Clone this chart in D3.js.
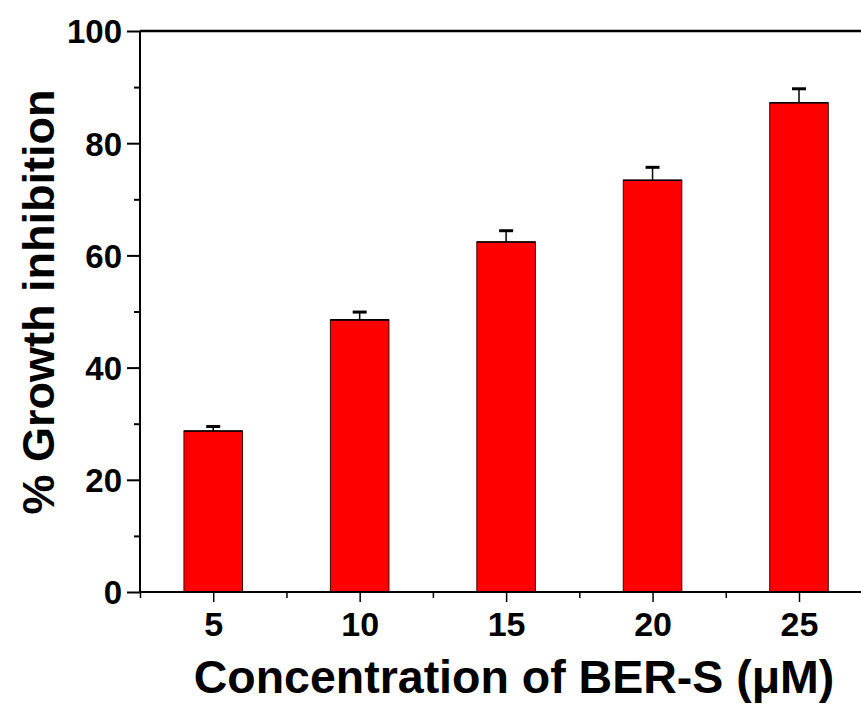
<!DOCTYPE html>
<html>
<head>
<meta charset="utf-8">
<script src="https://cdn.jsdelivr.net/npm/d3@7"></script>
<style>
body { margin: 0; background: #fff; }
text { font-family: "Liberation Sans", Arial, sans-serif; font-weight: bold; fill: #000; }
</style>
</head>
<body>
<svg id="chart" width="861" height="711"></svg>
<script>
// data
var concentrations = [5, 10, 15, 20, 25];
var inhibition = [28.7, 48.5, 62.4, 73.4, 87.2];
var errors = [0.8, 1.4, 2.0, 2.3, 2.5];
var yTicks = [0, 20, 40, 60, 80, 100];
var yMinor = [10, 30, 50, 70, 90];
var xMinor = [2.5, 7.5, 12.5, 17.5, 22.5];

var svg = d3.select("#chart");
var plotLeft = 140, plotTop = 31, plotBottom = 592, plotRight = 861;

var x = d3.scaleLinear().domain([2.5, 25]).range([plotLeft, 799]);
var y = d3.scaleLinear().domain([0, 100]).range([plotBottom, plotTop]);
var barW = x(2) - x(0);

// bars
svg.selectAll(".bar")
    .data(concentrations)
  .enter().append("rect")
    .attr("class", "bar")
    .attr("x", function(d) { return x(d) - barW / 2; })
    .attr("y", function(d, i) { return y(inhibition[i]); })
    .attr("width", barW)
    .attr("height", function(d, i) { return y(0) - y(inhibition[i]); })
    .attr("fill", "#ff0000")
    .attr("stroke", "#3a0a0a")
    .attr("stroke-width", 1);

// bar tops slightly darker
svg.selectAll(".bartop")
    .data(concentrations)
  .enter().append("line")
    .attr("x1", function(d) { return x(d) - barW / 2; })
    .attr("x2", function(d) { return x(d) + barW / 2; })
    .attr("y1", function(d, i) { return y(inhibition[i]); })
    .attr("y2", function(d, i) { return y(inhibition[i]); })
    .attr("stroke", "#000")
    .attr("stroke-width", 1.6);

// error bars (upper half)
svg.selectAll(".err")
    .data(concentrations)
  .enter().append("line")
    .attr("x1", function(d) { return x(d); })
    .attr("x2", function(d) { return x(d); })
    .attr("y1", function(d, i) { return y(inhibition[i]); })
    .attr("y2", function(d, i) { return y(inhibition[i] + errors[i]); })
    .attr("stroke", "#000")
    .attr("stroke-width", 1.5);
svg.selectAll(".cap")
    .data(concentrations)
  .enter().append("line")
    .attr("x1", function(d) { return x(d) - 7; })
    .attr("x2", function(d) { return x(d) + 7; })
    .attr("y1", function(d, i) { return y(inhibition[i] + errors[i]); })
    .attr("y2", function(d, i) { return y(inhibition[i] + errors[i]); })
    .attr("stroke", "#000")
    .attr("stroke-width", 3);

// frame lines
svg.append("line")
    .attr("x1", plotLeft).attr("x2", plotRight)
    .attr("y1", plotTop).attr("y2", plotTop)
    .attr("stroke", "#000").attr("stroke-width", 2.5);
svg.append("line")
    .attr("x1", plotLeft).attr("x2", plotRight)
    .attr("y1", plotBottom).attr("y2", plotBottom)
    .attr("stroke", "#000").attr("stroke-width", 2);
svg.append("line")
    .attr("x1", plotLeft).attr("x2", plotLeft)
    .attr("y1", plotTop).attr("y2", plotBottom)
    .attr("stroke", "#000").attr("stroke-width", 2);

// y axis
var yAxis = d3.axisLeft(y).tickValues(yTicks).tickSize(13).tickPadding(5);
var gy = svg.append("g").attr("transform", "translate(" + plotLeft + ",0)").call(yAxis);
gy.select(".domain").remove();
gy.selectAll("line").attr("stroke-width", 2);
gy.selectAll("text").attr("font-size", 33).attr("font-family", null).attr("dy", "0.36em");
var gyMinor = svg.append("g").attr("transform", "translate(" + plotLeft + ",0)")
    .call(d3.axisLeft(y).tickValues(yMinor).tickSize(6).tickFormat(""));
gyMinor.select(".domain").remove();
gyMinor.selectAll("line").attr("stroke-width", 2);

// x axis
var xAxis = d3.axisBottom(x).tickValues(concentrations).tickSize(10).tickPadding(10);
var gx = svg.append("g").attr("transform", "translate(0," + plotBottom + ")").call(xAxis);
gx.select(".domain").remove();
gx.selectAll("line").attr("stroke-width", 1.5);
gx.selectAll("text").attr("font-size", 34).attr("font-family", null);
var gxMinor = svg.append("g").attr("transform", "translate(0," + plotBottom + ")")
    .call(d3.axisBottom(x).tickValues(xMinor).tickSize(6).tickFormat(""));
gxMinor.select(".domain").remove();
gxMinor.selectAll("line").attr("stroke-width", 1.5);

// titles
svg.append("text")
    .attr("x", 514).attr("y", 693)
    .attr("text-anchor", "middle")
    .attr("font-size", 46.5)
    .text("Concentration of BER-S (\u03bcM)");
svg.append("text")
    .attr("transform", "translate(54,302) rotate(-90)")
    .attr("text-anchor", "middle")
    .attr("font-size", 45)
    .text("% Growth inhibition");
</script>
</body>
</html>
